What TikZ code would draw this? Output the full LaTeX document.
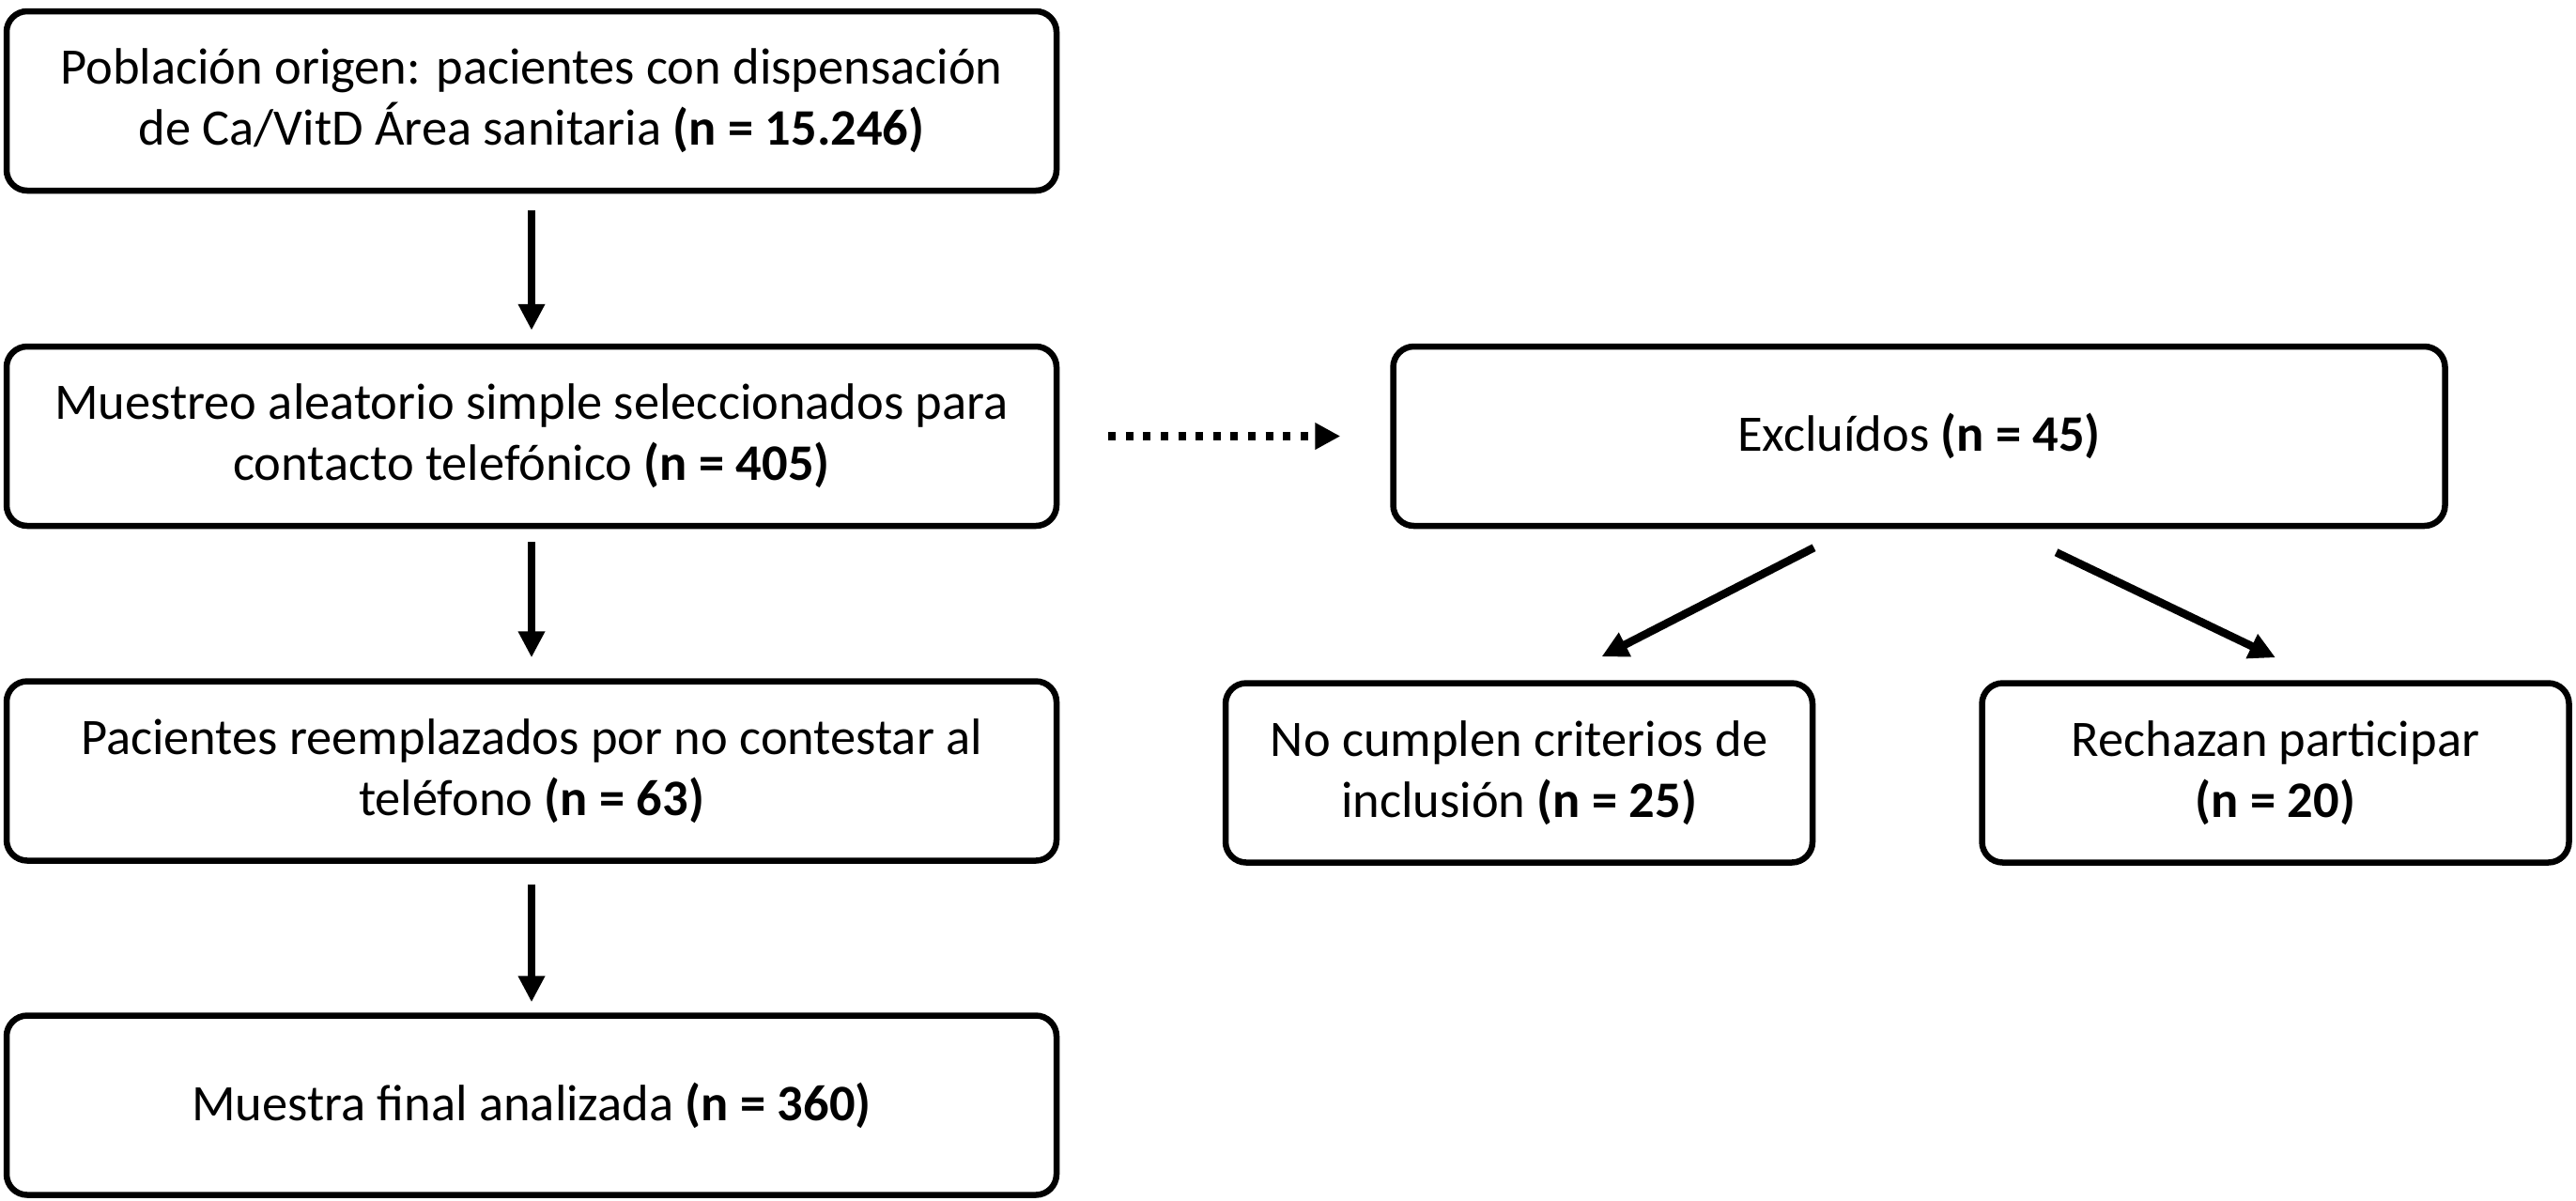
\documentclass[tikz,border=0pt]{standalone}
\usepackage{fontspec}
\setmainfont{Carlito}
\usetikzlibrary{arrows.meta}

\tikzset{
  box/.style={draw,line width=0.065cm,rounded corners=0.22cm,align=center,
    minimum width=11.18cm,minimum height=1.91cm,inner sep=0pt,
    font=\fontsize{15.5}{18.5}\selectfont},
  smallbox/.style={box,minimum width=6.25cm},
  arr/.style={line width=0.085cm,-{Triangle[length=0.28cm,width=0.27cm]}},
  dotarr/.style={line width=0.085cm,dash pattern=on 0.08cm off 0.106cm,
    -{Triangle[length=0.27cm,width=0.27cm]}}
}

\begin{document}
\begin{tikzpicture}
\useasboundingbox (0,0) rectangle (27.43,-12.78);
\node[box] (origen) at (5.66,-1.075) {Población origen: pacientes con dispensación\\de Ca/VitD Área sanitaria \textbf{(n = 15.246)}};
\node[box] (muestreo) at (5.66,-4.645) {Muestreo aleatorio simple seleccionados para\\contacto telefónico \textbf{(n = 405)}};
\node[box] (reempl) at (5.66,-8.21) {Pacientes reemplazados por no contestar al\\teléfono \textbf{(n = 63)}};
\node[box] (final) at (5.66,-11.77) {Muestra final analizada \textbf{(n = 360)}};
\node[box,minimum width=11.2cm] (excl) at (20.435,-4.645) {Excluídos \textbf{(n = 45)}};
\node[smallbox] (nocumplen) at (16.175,-8.23) {No cumplen criterios de\\inclusión \textbf{(n = 25)}};
\node[smallbox] (rechazan) at (24.23,-8.23) {Rechazan participar\\\textbf{(n = 20)}};

% flujo principal
\draw[arr,shorten <=0.18cm,shorten >=0.14cm] (origen) -- (muestreo);
\draw[arr,shorten <=0.14cm,shorten >=0.22cm] (muestreo) -- (reempl);
\draw[arr,shorten <=0.22cm,shorten >=0.11cm] (reempl) -- (final);
\draw[dotarr,shorten <=0.52cm,shorten >=0.53cm] (muestreo) -- (excl);

% excluidos
\draw[arr] ([xshift=-1.12cm,yshift=-0.2cm]excl.south) -- ([xshift=0.88cm,yshift=0.25cm]nocumplen.north);
\draw[arr] ([xshift=1.46cm,yshift=-0.25cm]excl.south) -- ([yshift=0.24cm]rechazan.north);
\end{tikzpicture}
\end{document}
